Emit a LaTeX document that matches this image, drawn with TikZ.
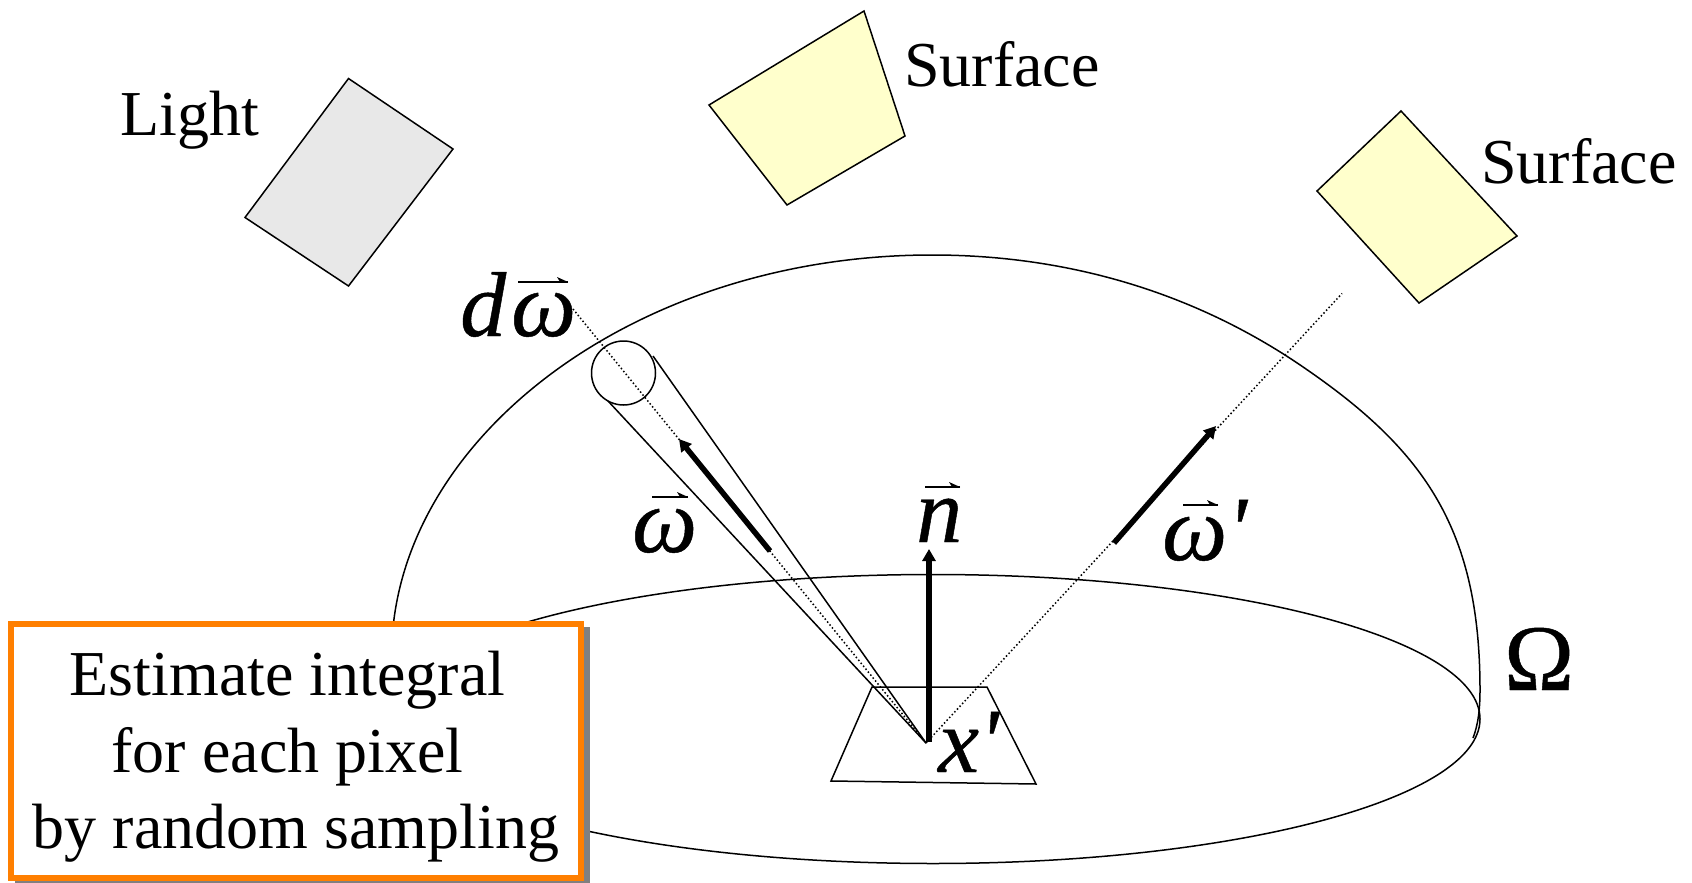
\documentclass[tikz,border=0pt]{standalone}
\usepackage{fontspec}
\setmainfont{Liberation Serif}
\newfontfamily\symfont[FakeBold=0.5]{Liberation Serif}
\usetikzlibrary{arrows.meta,shapes.geometric}
\tikzset{
  thinline/.style={line width=1.5pt,black},
  panel/.style={thinline,line join=miter},
  dotline/.style={line width=1.5pt,dash pattern=on 1.5pt off 2.3pt},
  thickarrow/.style={line width=5.5pt,-{Triangle[length=12pt,width=13pt]}},
  label/.style={anchor=base west,inner sep=0pt,font=\fontsize{64}{77}\selectfont},
  mathlabel/.style={anchor=base west,inner sep=0pt,font=\fontsize{92}{100}\selectfont\symfont\itshape},
  vecbar/.style={line width=1.4pt,line cap=butt}
}
\definecolor{lightgrey}{HTML}{E8E8E8}
\definecolor{surfyellow}{HTML}{FFFFCC}
\definecolor{boxorange}{HTML}{FF7F00}
\newcommand{\vecmark}[3]{\draw[vecbar] (#1,#3) -- (#2,#3); \fill (#2,#3) -- ++(-11,-5) -- ++(3,5) -- cycle;}
\begin{document}
\begin{tikzpicture}[x=1pt,y=-1pt]
\useasboundingbox (0,0) rectangle (1692,883);
\fill[white] (0,0) rectangle (1692,883);
% panels
\draw[panel,fill=lightgrey] (348.5,78.5) -- (453,149) -- (348.5,286) -- (245,217.5) -- cycle;
\draw[panel,fill=surfyellow] (864,11) -- (905,136) -- (787,205) -- (709,105) -- cycle;
\draw[panel,fill=surfyellow] (1401,111) -- (1517,236) -- (1419,303) -- (1317,191) -- cycle;
\node[label] (light) at (120,135) {Light};
\node[label] (surfA) at (904,87) {Surface};
\node[label] (surfB) at (1481,183) {Surface};
% hemisphere
\node[ellipse,thinline,draw,inner sep=0pt,minimum width=1094pt,minimum height=289pt] (base) at (933,719) {};
\coordinate (domeL) at (392,640);
\coordinate (domeT) at (932,255);
\coordinate (domeM) at (1306,369);
\coordinate (domeR) at (1480,690);
\coordinate (domeE) at (1473,738);
\draw[thinline] (domeL) .. controls (404,432) and (640,255) .. (domeT)
  .. controls (1067,255) and (1195,292) .. (domeM)
  .. controls (1425,451) and (1480,530) .. (domeR)
  .. controls (1480,710) and (1478,725) .. (domeE);
% patch
\coordinate (pa) at (872,687); \coordinate (pb) at (987,687);
\coordinate (pc) at (1036,784); \coordinate (pd) at (831,781);
\draw[panel] (pa) -- (pb) -- (pc) -- (pd) -- cycle;
% rays
\coordinate (O) at (926,743);
\coordinate (dwEnd) at (573,309);
\coordinate (rEnd) at (1342,293.5);
\node[circle,thinline,draw,inner sep=0pt,minimum size=64pt] (cap) at (623.5,373) {};
\coordinate (coneA) at (653,356);
\coordinate (coneB) at (608,401);
\draw[thinline] (coneA) -- (O);
\draw[thinline] (coneB) -- (O);
\draw[dotline] (dwEnd) -- (O);
\draw[dotline] (O) -- (rEnd);
\coordinate (wS) at (770,551); \coordinate (wT) at (679,439);
\draw[thickarrow] (wS) -- (wT);
\coordinate (vS) at (1114,543); \coordinate (vT) at (1216,426);
\draw[thickarrow] (vS) -- (vT);
\coordinate (nS) at (929,742); \coordinate (nT) at (929,549);
\draw[thickarrow] (nS) -- (nT);
% math labels
\node[mathlabel] (d) at (460,336) {d};
\node[mathlabel] (w1) at (511,336) {ω};
\vecmark{518}{568}{282}
\node[mathlabel] (w2) at (632,552) {ω};
\vecmark{652}{688}{497}
\node[mathlabel] (n) at (916,542) {n};
\vecmark{925}{960}{487}
\node[mathlabel] (w3) at (1162,560) {ω'};
\vecmark{1183}{1218}{505}
\node[mathlabel] (x) at (938,772) {x'};
\node[anchor=base west,inner sep=0pt,font=\fontsize{94}{100}\selectfont\symfont] (om) at (1504,690) {Ω};
% box
\fill[gray] (15,627) rectangle (590,884);
\node[rectangle,draw=boxorange,fill=white,line width=6pt,minimum width=570pt,minimum height=254pt,inner sep=0pt] (box) at (296,751) {};
\node[anchor=base,inner sep=0pt,font=\fontsize{64}{77}\selectfont] (l1) at (287.5,695) {Estimate integral};
\node[anchor=base,inner sep=0pt,font=\fontsize{64}{77}\selectfont] (l2) at (287.5,772) {for each pixel};
\node[anchor=base,inner sep=0pt,font=\fontsize{64}{77}\selectfont] (l3) at (296,848) {by random sampling};
\end{tikzpicture}
\end{document}
